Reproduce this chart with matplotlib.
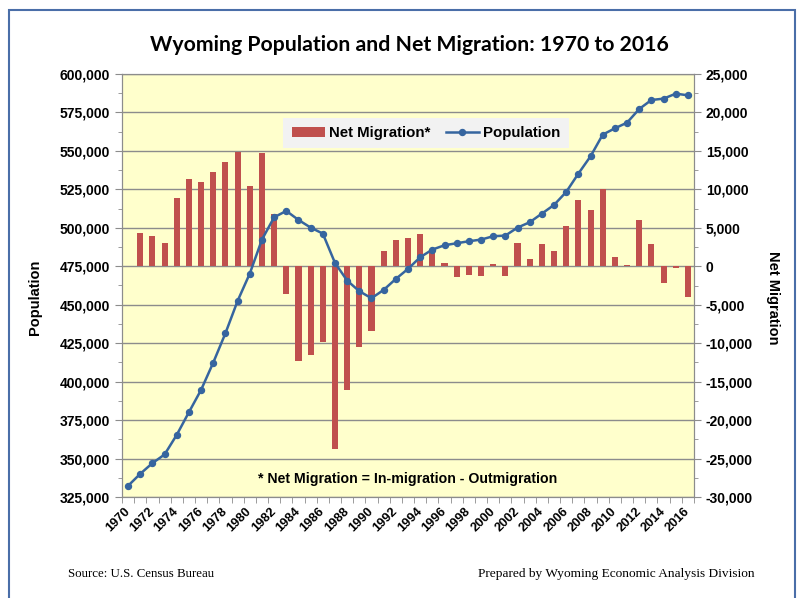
import numpy as np
import matplotlib.pyplot as plt
from matplotlib.patches import Rectangle
from matplotlib.ticker import FuncFormatter, MultipleLocator

years = list(range(1970, 2017))

population = [332280, 340080, 347010, 352640, 365420, 380150, 394660, 412420,
              431480, 452500, 470260, 492350, 506860, 510980, 505130, 500150,
              496250, 477190, 465710, 458780, 454230, 459640, 466790, 473290,
              480870, 485850, 488670, 489970, 491270, 492350, 494520, 494950,
              500150, 503610, 509240, 514880, 523320, 535240, 546500, 560580,
              564690, 568380, 577260, 583110, 583970, 587220, 586140]

net_migration = [100, 4300, 3900, 3030, 8840, 11350, 10920, 12300,
                 13560, 14860, 10490, 14690, 6800, -3550, -12350, -11520,
                 -9830, -23730, -16150, -10520, -8400, 1950, 3460, 3640,
                 4200, 2000, 430, -1390, -1130, -1300, 260, -1300,
                 3030, 910, 2900, 2030, 5280, 8660, 7360, 10050,
                 1210, 130, 5980, 2900, -2120, -170, -3940]

plt.rcParams['font.family'] = ['Liberation Sans', 'DejaVu Sans']

fig = plt.figure(figsize=(7.99, 5.98), dpi=100)
ax2 = fig.add_axes([122/799, 1 - 497/598, 572/799, 423/598])
ax = ax2.twinx()
ax.set_zorder(ax2.get_zorder() + 1)
ax.patch.set_visible(False)

# ax = left (population), ax2 = right (migration)
ax2.yaxis.tick_right()
ax2.yaxis.set_label_position("right")
ax.yaxis.tick_left()
ax.yaxis.set_label_position("left")

x = np.arange(len(years))
ax2.set_facecolor('#FFFFCC')
bars = ax2.bar(x, net_migration, width=0.5, color='#C0504D', zorder=3,
               label='Net Migration*')
line, = ax.plot(x, population, color='#36659F', lw=1.8, marker='o', ms=4.3,
                label='Population')

ax.set_xlim(-0.5, len(years) - 0.5)
ax.set_ylim(325000, 600000)
ax2.set_ylim(-30000, 25000)
ax.yaxis.set_major_locator(MultipleLocator(25000))
ax.yaxis.set_minor_locator(MultipleLocator(12500))
ax2.yaxis.set_major_locator(MultipleLocator(5000))
ax2.yaxis.set_minor_locator(MultipleLocator(2500))
ax.yaxis.set_major_formatter(FuncFormatter(lambda v, p: f'{v:,.0f}'))
ax2.yaxis.set_major_formatter(FuncFormatter(lambda v, p: f'{v:,.0f}'))
ax2.grid(axis='y', color='#8C8C8C', lw=1, zorder=0)
ax2.set_axisbelow(True)

ax2.set_xticks(x[::2])
ax2.set_xticklabels([str(y) for y in years[::2]], rotation=45, ha='right',
                    va='center', rotation_mode='anchor', fontweight='bold',
                    fontsize=9.3)
ax2.set_xticks(np.arange(-0.5, len(years)), minor=True)
ax2.tick_params(axis='x', which='major', length=0, pad=9)
ax2.tick_params(axis='x', which='minor', length=4, color='#8C8C8C')
ax.tick_params(axis='x', which='both', length=0, labelbottom=False)

for a in (ax, ax2):
    a.tick_params(axis='y', which='major', length=5, color='#8C8C8C', labelsize=10)
    a.tick_params(axis='y', which='minor', length=3, color='#8C8C8C')
    for lab in a.get_yticklabels():
        lab.set_fontweight('bold')
    for s in a.spines.values():
        s.set_color('#8C8C8C')

ax.set_ylabel('Population', fontsize=10.5, fontweight='bold', va='center')
ax.yaxis.set_label_coords((35 - 122)/572, (497 - 297)/423)
ax2.set_ylabel('Net Migration', fontsize=10.5, fontweight='bold', rotation=-90,
               va='center')
ax2.yaxis.set_label_coords(1 + 79/572, (497 - 298)/423)

fig.text(409/799, 1 - 45/598, 'Wyoming Population and Net Migration: 1970 to 2016',
         ha='center', va='center', fontsize=15.3, fontweight='bold',
         family=['Lato', 'DejaVu Sans'])

ax.text(0.5, 0.043, '* Net Migration = In-migration - Outmigration',
        transform=ax.transAxes, ha='center', va='center', fontsize=10.2,
        fontweight='bold')

leg = ax.legend([bars, line], ['Net Migration*', 'Population'], ncol=2,
                loc='center', bbox_to_anchor=(426/799, 1 - 133/598),
                bbox_transform=fig.transFigure, prop={'weight': 'bold', 'size': 10.8},
                fancybox=False, framealpha=1, handlelength=2.2, handletextpad=0.3,
                columnspacing=1.0, borderpad=0.55, borderaxespad=0)
leg.get_frame().set_facecolor('#F2F2F2')
leg.get_frame().set_edgecolor('none')

fig.text(68/799, 1 - 574/598, 'Source: U.S. Census Bureau', ha='left', va='center',
         fontsize=9.3, family=['Liberation Serif'])
fig.text(755/799, 1 - 574/598, 'Prepared by Wyoming Economic Analysis Division',
         ha='right', va='center', fontsize=9.6, family=['Liberation Serif'])

fig.patches.append(Rectangle((9/799, -0.05), (795 - 9)/799, 1 - 10/598 + 0.05,
                             transform=fig.transFigure, fill=False,
                             edgecolor='#4A6EA8', lw=1.5))

fig.savefig('out.png', dpi=100)
